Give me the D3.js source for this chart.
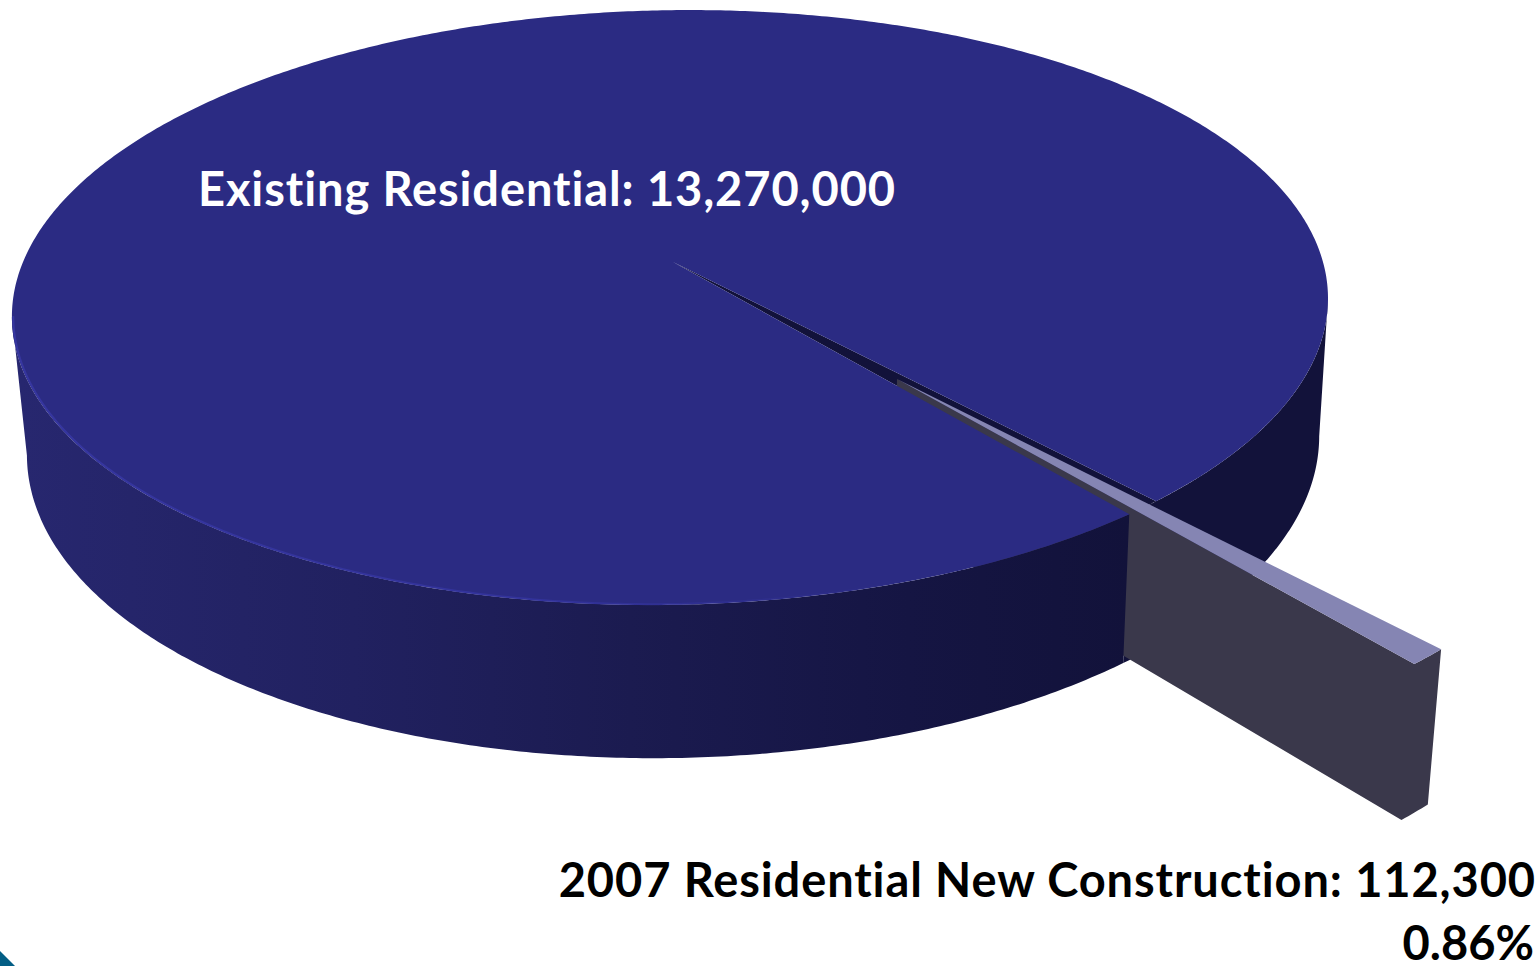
<!DOCTYPE html>
<html>
<head>
<meta charset="utf-8">
<script src="https://cdn.jsdelivr.net/npm/d3@7"></script>
<style>
html,body{margin:0;padding:0;background:#fff;}
svg{display:block;}
text{font-family:Lato,"Open Sans",sans-serif;font-weight:700;letter-spacing:0.9px;}
</style>
</head>
<body>
<svg id="chart" width="1540" height="966"></svg>
<script>
// Residential building stock
const categories = ["2007 Residential New Construction", "Existing Residential"];
const values = [112300, 13270000];
const newShareLabel = "0.86%";

const W = 1540, H = 966;
const svg = d3.select("#chart").attr("viewBox", `0 0 ${W} ${H}`);

// Camera for the tilted disc: world X to the right, Y toward the viewer, Z downward.
const cam = {cx: 673, cy: 262, ax: 650, by: 290.5, k: 0.153, m: 0.018, cz: 138.7, shear: 0.067, dz: 3};
const project = (x, y, z) => {
  const w = 1 - cam.k * y + cam.m * z;
  const ry = cam.by * y / w;
  return [cam.cx + cam.ax * x / w - cam.shear * ry + cam.dz * z, cam.cy + ry + cam.cz * z / w];
};

const rad = d => d * Math.PI / 180;
const explode = 0.507;
const wedgeRadius = 0.995;
const smallMid = rad(138.5);
const smallSpan = 2 * Math.PI * values[0] / d3.sum(values);

const pie = d3.pie().sort(null).value(d => d)
  .startAngle(smallMid - smallSpan / 2)
  .endAngle(smallMid - smallSpan / 2 + 2 * Math.PI);
const [smallArc, bigArc] = pie(values);

// d3 angle (clockwise from north) to a point on the disc
const polar = (a, r, ox = 0, oy = 0) => [ox + r * Math.sin(a), oy - r * Math.cos(a)];
const samples = (a0, a1, n = 240) => d3.range(n + 1).map(i => a0 + (a1 - a0) * i / n);
const line = d3.line().curve(d3.curveLinear);
const closed = pts => line(pts) + "Z";

// Angles where the disc's outline turns away from the viewer
const midX = a => project(...polar(a, 1), 0.5)[0];
const silhouetteRight = d3.greatest(samples(0, Math.PI, 720), midX);
const silhouetteLeft = d3.least(samples(Math.PI, 2 * Math.PI, 720), midX);

const defs = svg.append("defs");
const grad = defs.append("linearGradient").attr("id", "wallShade")
  .attr("gradientUnits", "userSpaceOnUse")
  .attr("x1", 20).attr("x2", 1130).attr("y1", 0).attr("y2", 0);
[[0, "#27276f"], [0.3, "#212160"], [0.55, "#1b1b50"], [0.8, "#151543"], [1, "#12123a"]]
  .forEach(([o, c]) => grad.append("stop").attr("offset", o).attr("stop-color", c));

const rimGrad = defs.append("linearGradient").attr("id", "rimShade")
  .attr("gradientUnits", "userSpaceOnUse")
  .attr("x1", 20).attr("x2", 900).attr("y1", 0).attr("y2", 0);
[[0, "#3636a0", 1], [0.6, "#3434a0", 0.8], [1, "#3434a0", 0]]
  .forEach(([o, c, a]) => rimGrad.append("stop").attr("offset", o).attr("stop-color", c).attr("stop-opacity", a));

const wall = (a0, a1) => {
  const s = samples(a0, a1);
  const top = s.map(a => project(...polar(a, 1), 0));
  const bot = s.map(a => project(...polar(a, 1), 1)).reverse();
  return closed(top.concat(bot));
};

const a0 = smallArc.startAngle, a1 = smallArc.endAngle;

// Wall of the large slice behind the detached wedge, and the notch walls
svg.append("path").attr("d", wall(a1, silhouetteRight)).attr("fill", "#12123a");

// Notch left in the top face by the detached wedge
const notch = [project(0, 0, 0)].concat(
  samples(a0, a1, 12).map(a => project(...polar(a, 1), 0)));
svg.append("path").attr("d", closed(notch)).attr("fill", "#12123a");

// Detached wedge
const off = polar(smallMid, explode);
const wedgeCorner = (a, r, z) => project(...polar(a, r, off[0], off[1]), z);
const rimS = samples(a0, a1, 8);

// near side wall and outer rim of the wedge, as one outline
svg.append("path")
  .attr("d", closed([wedgeCorner(a1, 0, 0)]
    .concat(rimS.slice().reverse().map(a => wedgeCorner(a, wedgeRadius, 0)))
    .concat(rimS.map(a => wedgeCorner(a, wedgeRadius, 1)))
    .concat([wedgeCorner(a1, 0, 1)])))
  .attr("fill", "#3a384b");

// Wall of the large slice in front of the wedge
svg.append("path").attr("d", wall(a1, silhouetteLeft)).attr("fill", "url(#wallShade)");

// Top face of the large slice
const bigTop = [project(0, 0, 0)].concat(
  samples(bigArc.startAngle, bigArc.endAngle, 720).map(a => project(...polar(a, 1), 0)));
svg.append("path").datum(categories[1]).attr("d", closed(bigTop)).attr("fill", "#2b2b83");

// Lit edge along the front of the top face
svg.append("path")
  .attr("d", line(samples(a1, silhouetteLeft).map(a => project(...polar(a, 0.998), 0))))
  .attr("fill", "none").attr("stroke", "url(#rimShade)").attr("stroke-width", 2);

// Top face of the wedge
const wedgeTop = [wedgeCorner(a0, 0, 0)].concat(rimS.map(a => wedgeCorner(a, wedgeRadius, 0)));
svg.append("path").datum(categories[0]).attr("d", closed(wedgeTop)).attr("fill", "#8585b3");

// Labels
const fmt = d3.format(",");
svg.append("text").attr("x", 198).attr("y", 206).attr("font-size", 47).attr("fill", "#fff")
  .text(`${categories[1]}: ${fmt(values[1])}`);
svg.append("text").attr("x", 1536).attr("y", 897).attr("text-anchor", "end")
  .attr("font-size", 47).attr("fill", "#000")
  .text(`${categories[0]}: ${fmt(values[0])}`);
svg.append("text").attr("x", 1534).attr("y", 960).attr("text-anchor", "end")
  .attr("font-size", 47).attr("fill", "#000").style("letter-spacing", "0").text(newShareLabel);

// Corner ornament at the lower left
const corner = [[0, 951], [15, 966], [0, 966]];
svg.append("path").attr("d", closed(corner)).attr("fill", "#035e85");
</script>
</body>
</html>
